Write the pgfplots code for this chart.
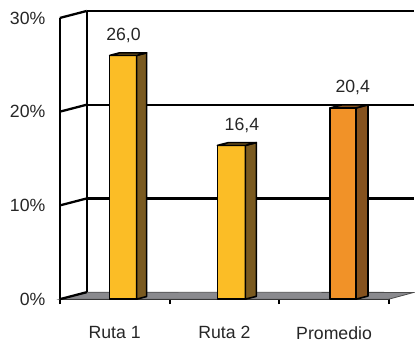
\documentclass[border=0pt]{standalone}
\usepackage{fontspec}
\setmainfont{Liberation Sans}
\usepackage{pgfplots}
\pgfplotsset{compat=1.18}

\definecolor{rutaF}{RGB}{251,189,38}
\definecolor{rutaS}{RGB}{122,90,32}
\definecolor{promF}{RGB}{241,146,40}
\definecolor{promS}{RGB}{133,82,30}
\definecolor{floorc}{RGB}{138,138,142}

\begin{document}
\begin{tikzpicture}
\begin{axis}[
  x=110bp, y=9.4bp,
  xmin=0, xmax=3, ymin=0, ymax=30,
  clip=false,
  axis x line=bottom, axis y line=left,
  axis line style={line width=2.4pt, -},
  xtick={0,1,2,3},
  xticklabels={Ruta 1,Ruta 2,Promedio},
  x tick label as interval,
  ytick={0,10,20,30},
  yticklabel={\pgfmathprintnumber{\tick}\%},
  /pgf/number format/assume math mode=true,
  tick align=outside,
  major tick length=5bp,
  xtick style={line width=2pt, black},
  ytick style={draw=none},
  tick label style={font=\fontsize{17.8}{21}\selectfont, text=black!85},
  xticklabel style={yshift=-19bp},
  yticklabel style={xshift=-6bp},
]
% bounding box of the picture
\addplot[draw=none, forget plot] coordinates {(-0.5455,-4.468) (3.2273,31.915)};
% floor
\addplot[fill=floorc, draw=black!70, line width=0.8pt] coordinates {(0,0) (3,0) (3.2273,0.72) (0.2455,0.745)} --cycle;
% back wall
\addplot[black, line width=2.3pt] coordinates {(0.2455,0.745) (0.2455,30.745)};
\addplot[black, line width=2.3pt] coordinates {(0.2455,10.745) (3.2273,10.745)};
\addplot[black, line width=2.3pt] coordinates {(0.2455,20.745) (3.2273,20.745)};
\addplot[black, line width=2.3pt] coordinates {(0.2455,30.745) (3.2273,30.745)};
% slanted connectors
\addplot[black, line width=2.3pt] coordinates {(0,10) (0.2455,10.745)};
\addplot[black, line width=2.3pt] coordinates {(0,20) (0.2455,20.745)};
\addplot[black, line width=2.3pt] coordinates {(0,30) (0.2455,30.745)};
\addplot[black, line width=2.3pt] coordinates {(0,0) (0.2455,0.745)};
% Ruta 1 = 26.0
\addplot[fill=rutaF, draw=black, line width=1.6pt, line join=round] coordinates {(0.4545,0) (0.7,0) (0.7,26.0) (0.4545,26.0)} --cycle;
\addplot[fill=rutaS, draw=black, line width=1.6pt, line join=round] coordinates {(0.7,0) (0.7909,0.28) (0.7909,26.28) (0.7,26.0)} --cycle;
\addplot[fill=rutaS, draw=black, line width=1.6pt, line join=round] coordinates {(0.4545,26.0) (0.7,26.0) (0.7909,26.28) (0.5454,26.28)} --cycle;
% Ruta 2 = 16.4
\addplot[fill=rutaF, draw=black, line width=1.6pt, line join=round] coordinates {(1.436,0) (1.691,0) (1.691,16.4) (1.436,16.4)} --cycle;
\addplot[fill=rutaS, draw=black, line width=1.6pt, line join=round] coordinates {(1.691,0) (1.791,0.3) (1.791,16.7) (1.691,16.4)} --cycle;
\addplot[fill=rutaS, draw=black, line width=1.6pt, line join=round] coordinates {(1.436,16.4) (1.691,16.4) (1.791,16.7) (1.536,16.7)} --cycle;
% Promedio = 20.4
\addplot[fill=promF, draw=black, line width=1.6pt, line join=round] coordinates {(2.464,0) (2.7,0) (2.7,20.4) (2.464,20.4)} --cycle;
\addplot[fill=promS, draw=black, line width=1.6pt, line join=round] coordinates {(2.7,0) (2.809,0.33) (2.809,20.73) (2.7,20.4)} --cycle;
\addplot[fill=promS, draw=black, line width=1.6pt, line join=round] coordinates {(2.464,20.4) (2.7,20.4) (2.809,20.73) (2.573,20.73)} --cycle;
% value labels
\addplot[draw=none, mark=none,
  nodes near coords={\pgfmathprintnumber[fixed,fixed zerofill,precision=1,use comma,assume math mode=true]{\pgfplotspointmeta}},
  point meta=explicit,
  nodes near coords style={anchor=base, inner sep=0pt, yshift=15bp, font=\fontsize{17.8}{21}\selectfont, text=black!85},
] coordinates {(0.58,26.0) [26.0] (1.66,16.4) [16.4] (2.67,20.4) [20.4]};
\end{axis}
\end{tikzpicture}
\end{document}
